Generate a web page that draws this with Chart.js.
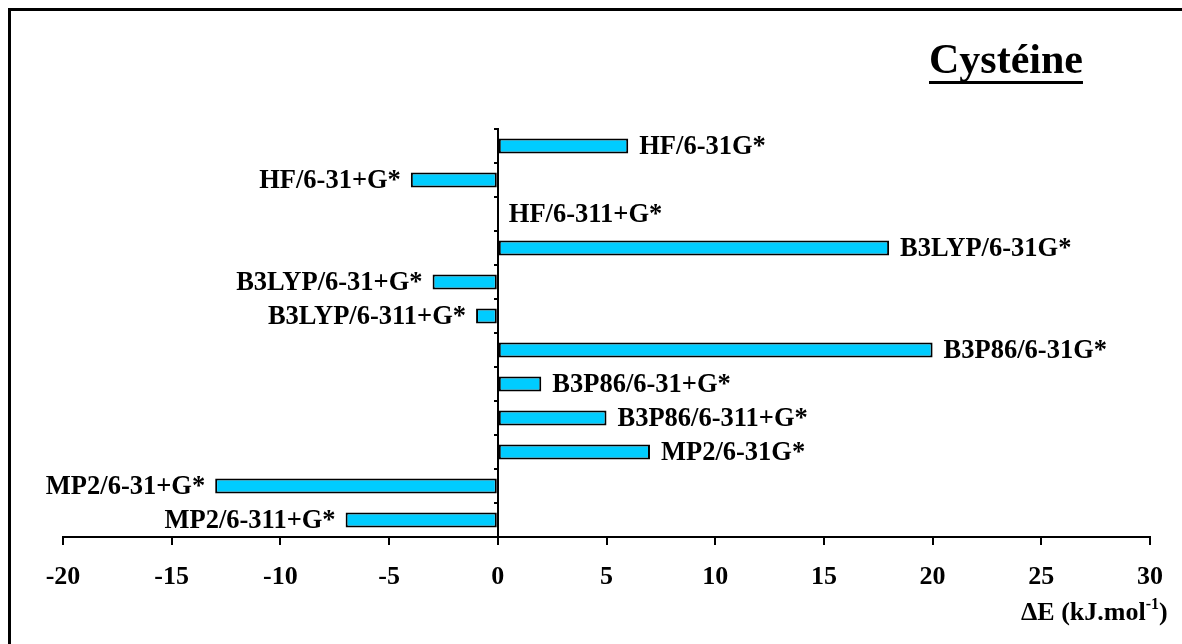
<!DOCTYPE html>
<html>
<head>
<meta charset="utf-8">
<script src="https://cdn.jsdelivr.net/npm/chart.js@4.4.1/dist/chart.umd.min.js"></script>
<style>
  html, body { margin: 0; padding: 0; background: #fff; }
  canvas { display: block; }
</style>
</head>
<body>
<canvas id="chart" width="1182" height="644"></canvas>
<script>
// Energy differences for cysteine, by method / basis set
const methods = [
  'HF/6-31G*', 'HF/6-31+G*', 'HF/6-311+G*',
  'B3LYP/6-31G*', 'B3LYP/6-31+G*', 'B3LYP/6-311+G*',
  'B3P86/6-31G*', 'B3P86/6-31+G*', 'B3P86/6-311+G*',
  'MP2/6-31G*', 'MP2/6-31+G*', 'MP2/6-311+G*',
];
const deltaE = [6, -4, 0, 18, -3, -1, 20, 2, 5, 7, -13, -7];
const xMin = -20;
const xMax = 30;
const xStep = 5;

const serif = '"Liberation Serif", "Times New Roman", serif';

// Outer frame, bar labels, title and axis title
const decorations = {
  id: 'decorations',
  beforeDraw(chart) {
    const ctx = chart.ctx;
    ctx.save();
    ctx.fillStyle = '#000';
    ctx.fillRect(8, 8, 1174, 3);
    ctx.fillRect(8, 8, 3, 636);
    ctx.restore();
  },
  afterDatasetsDraw(chart) {
    const ctx = chart.ctx;
    const bars = chart.getDatasetMeta(0).data;
    ctx.save();
    ctx.fillStyle = '#000';
    ctx.font = 'bold 26.5px ' + serif;
    ctx.textBaseline = 'middle';
    bars.forEach((bar, i) => {
      const v = deltaE[i];
      if (v < 0) {
        ctx.textAlign = 'right';
        ctx.fillText(methods[i], bar.x - 10, bar.y + 1);
      } else {
        ctx.textAlign = 'left';
        ctx.fillText(methods[i], bar.x + 11, bar.y + 1);
      }
    });

    // title
    ctx.font = 'bold 42px ' + serif;
    ctx.textAlign = 'left';
    ctx.textBaseline = 'alphabetic';
    const title = 'Cystéine';
    const tw = ctx.measureText(title).width;
    ctx.fillText(title, 929, 73);
    ctx.fillRect(929, 81, tw, 3);

    // axis title with superscript
    ctx.font = 'bold 26px ' + serif;
    const a = 'ΔE (kJ.mol';
    let x = 1021;
    ctx.fillText(a, x, 620);
    x += ctx.measureText(a).width;
    ctx.font = 'bold 16px ' + serif;
    ctx.fillText('-1', x, 609);
    x += ctx.measureText('-1').width;
    ctx.font = 'bold 26px ' + serif;
    ctx.fillText(')', x, 620);
    ctx.restore();
  },
};

new Chart(document.getElementById('chart'), {
  type: 'bar',
  data: {
    labels: methods,
    datasets: [{
      data: deltaE,
      backgroundColor: '#00CCFF',
      borderColor: '#000',
      borderWidth: 2,
      borderSkipped: false,
      categoryPercentage: 1,
      barPercentage: 0.44,
    }],
  },
  options: {
    indexAxis: 'y',
    responsive: false,
    animation: false,
    devicePixelRatio: 1,
    layout: { padding: { left: 63, right: 32, top: 129, bottom: 0 } },
    plugins: {
      legend: { display: false },
      tooltip: { enabled: false },
    },
    scales: {
      x: {
        min: xMin,
        max: xMax,
        afterFit(scale) { scale.height = 644 - 537; },
        ticks: {
          stepSize: xStep,
          color: '#000',
          padding: 17,
          font: { family: serif, size: 26, weight: 'bold' },
        },
        grid: {
          drawOnChartArea: false,
          drawTicks: true,
          tickLength: 8,
          color: '#000',
          lineWidth: 2,
        },
        border: { display: true, color: '#000', width: 2 },
      },
      y: {
        position: { x: 0 },
        ticks: { display: false },
        grid: {
          offset: true,
          drawOnChartArea: false,
          drawTicks: true,
          tickLength: 3,
          color: '#000',
          lineWidth: 2,
        },
        border: { display: true, color: '#000', width: 2 },
      },
    },
  },
  plugins: [decorations],
});
</script>
</body>
</html>
